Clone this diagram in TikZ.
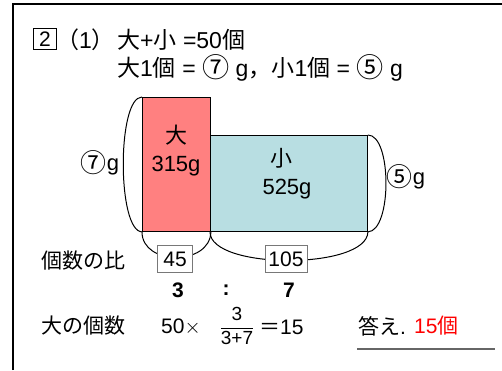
\documentclass[tikz,border=0pt]{standalone}
\usepackage{fontspec}
\setmainfont{Liberation Sans}
\newfontfamily\jp{Noto Sans CJK JP}
\newcommand{\J}[1]{{\jp #1}}
\newcommand{\C}[1]{\raisebox{-0.07em}{\scalebox{1.18}{\jp #1}}}
\definecolor{bigred}{RGB}{255,128,128}
\definecolor{smallblue}{RGB}{184,222,226}
\definecolor{ansred}{RGB}{255,0,0}
\definecolor{boxgray}{RGB}{120,120,120}
\begin{document}
\begin{tikzpicture}[x=1pt,y=-1pt,
  hdr/.style={font=\fontsize{23}{25}\selectfont, inner sep=0pt},
  lbl/.style={font=\fontsize{22}{24}\selectfont, inner sep=0pt},
  row/.style={font=\fontsize{21}{23}\selectfont, inner sep=0pt},
  bold/.style={font=\fontsize{21}{23}\selectfont\bfseries, inner sep=0pt},
  numbox/.style={draw=boxgray, fill=white, line width=0.6pt, font=\fontsize{21}{23}\selectfont, inner sep=0pt, minimum height=27pt},
  brace/.style={line width=1pt}]
\useasboundingbox (0,0) rectangle (502,370);
% frame
\coordinate (fb) at (13,370);
\coordinate (fc) at (13,4);
\coordinate (fr) at (502,4);
\draw[line width=1.8pt] (fb) -- (fc) -- (fr);
% header
\node[draw, line width=0.8pt, font=\fontsize{21}{22}\selectfont, inner sep=0pt, minimum width=23pt, minimum height=21pt] (q) at (45,39) {2};
\node[hdr, anchor=west] (part) at (56,40) {\J{（}1\J{）}};
\node[hdr, anchor=west] (l1) at (117,40) {\J{大}+\J{小} =50\J{個}};
\node[hdr, anchor=west] (l2) at (117,68) {\J{大}1\J{個} = \C{⑦} g\J{，}\J{小}1\J{個} = \C{⑤} g};
% bars
\node[draw, fill=bigred, line width=0.9pt, minimum width=68pt, minimum height=134pt, anchor=north west, inner sep=0pt] (big) at (142,97) {};
\node[draw, fill=smallblue, line width=0.9pt, minimum width=157pt, minimum height=96pt, anchor=north west, inner sep=0pt] (small) at (210,135) {};
\node[lbl] (bigc) at (176,135) {\J{大}};
\node[lbl] (bigw) at (176,166) {315g};
\node[lbl] (smallc) at (281,158) {\J{小}};
\node[lbl] (smallw) at (287,189) {525g};
% braces
\draw[brace] (big.north west) .. controls (117,97) and (117,231) .. (big.south west);
\draw[brace] (small.north east) .. controls (392,135) and (392,231) .. (small.south east);
\draw[brace] (big.south west) .. controls (142,266) and (210,266) .. (big.south east);
\draw[brace] (small.south west) .. controls (210,270) and (367,270) .. (small.south east);
\node[lbl] (wbig) at (100,163) {\C{⑦}g};
\node[lbl] (wsmall) at (406,177) {\C{⑤}g};
% ratio
\node[numbox, minimum width=35pt] (n45) at (175,259) {45};
\node[numbox, minimum width=42pt] (n105) at (286,259) {105};
\node[row, anchor=west] (ratio) at (41,261) {\J{個数の比}};
\node[bold] (r3) at (178,290) {3};
\node[bold] (rc) at (226,290) {:};
\node[bold] (r7) at (289,290) {7};
% calculation
\node[row, anchor=west] (calc) at (41,326) {\J{大の個数}};
\node[row, anchor=west] (c50) at (161,327) {50$\times$};
\node[inner sep=0pt, font=\fontsize{19}{20}\selectfont] (frac) at (237,326) {$\displaystyle\frac{\mbox{3}}{\mbox{3+7}}$};
\node[row, anchor=west] (c15) at (259,327) {\J{＝}15};
\node[row, anchor=west] (ans) at (358,326) {\J{答え}.};
\node[row, anchor=west, text=ansred] (ansv) at (414,326) {15\J{個}};
\coordinate (ul1) at (357,349);
\coordinate (ul2) at (495,349);
\draw[line width=1.5pt, draw=black!60] (ul1) -- (ul2);
\end{tikzpicture}
\end{document}
